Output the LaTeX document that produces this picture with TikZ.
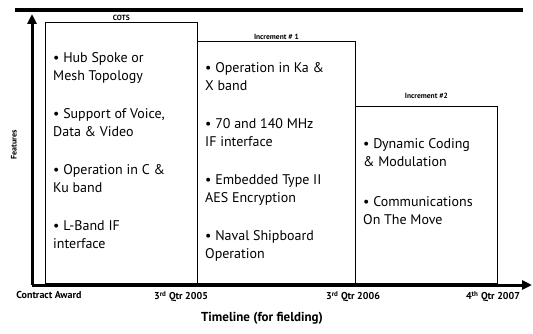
\documentclass[tikz,border=0pt]{standalone}
\usepackage{fontspec}
\setmainfont{PT Sans}
\usetikzlibrary{arrows.meta, positioning}
\tikzset{
  phasebox/.style={rectangle, draw=black, thick, anchor=south west, inner sep=0pt},
  phaselabel/.style={font=\fontsize{7.5}{8}\selectfont\bfseries, anchor=south, inner sep=1.5pt},
  featlist/.style={anchor=north west, align=left, font=\fontsize{14}{18}\selectfont, inner sep=0pt},
  axis/.style={line width=3pt, -{Triangle[length=10pt,width=9pt]}},
  ticklabel/.style={font=\fontsize{10}{11}\selectfont\bfseries, anchor=north, inner sep=1pt},
}

\begin{document}
\begin{tikzpicture}[x=1pt, y=-1pt]
  \useasboundingbox (0,0) rectangle (533,334);

  % --- top rule ---
  \coordinate (ruleL) at (15,10);
  \coordinate (ruleR) at (523,10);
  \draw[line width=4.5pt] (ruleL) -- (ruleR);

  % --- axes ---
  \coordinate (origin) at (32,285);
  \coordinate (ytop) at (32,14);
  \coordinate (xend) at (532,285);
  \draw[axis] (origin) -- (ytop);
  \draw[axis] (origin) -- (xend);
  \node[font=\fontsize{8}{9}\selectfont\bfseries, rotate=90] (ylab) at (14,145) {Features};
  \node[font=\fontsize{13}{14}\selectfont\bfseries, anchor=north] (xlab) at (262,309) {Timeline (for fielding)};

  % --- phase boxes ---
  \node[phasebox, minimum width=152pt, minimum height=261pt] (cots) at (45,284) {};
  \node[phasebox, minimum width=158pt, minimum height=242pt] (inc1) at (197,284) {};
  \node[phasebox, minimum width=142pt, minimum height=177pt] (inc2) at (355,284) {};

  \node[phaselabel] (cotslab) at (cots.north) {COTS};
  \node[phaselabel] (inc1lab) at (inc1.north) {Increment \# 1};
  \node[phaselabel, yshift=6pt] (inc2lab) at (inc2.north) {Increment \#2};

  % --- feature lists ---
  \node[featlist] (cotsitems) at (53,52) {%
    \textbullet\ Hub Spoke or\\ Mesh Topology\\[20pt]
    \textbullet\ Support of Voice,\\ Data \& Video\\[20pt]
    \textbullet\ Operation in C \&\\ Ku band\\[20pt]
    \textbullet\ L-Band IF\\ interface};
  \node[featlist] (inc1items) at (205,62) {%
    \textbullet\ Operation in Ka \&\\ X band\\[20pt]
    \textbullet\ 70 and 140 MHz\\ IF interface\\[20pt]
    \textbullet\ Embedded Type II\\ AES Encryption\\[20pt]
    \textbullet\ Naval Shipboard\\ Operation};
  \node[featlist] (inc2items) at (363,138) {%
    \textbullet\ Dynamic Coding\\ \& Modulation\\[22pt]
    \textbullet\ Communications\\ On The Move};

  % --- milestones ---
  \node[ticklabel] (t0) at (49,290) {Contract Award};
  \node[ticklabel] (t1) at (181,290) {3\textsuperscript{rd} Qtr 2005};
  \node[ticklabel] (t2) at (353,290) {3\textsuperscript{rd} Qtr 2006};
  \node[ticklabel] (t3) at (493,290) {4\textsuperscript{th} Qtr 2007};
\end{tikzpicture}
\end{document}
